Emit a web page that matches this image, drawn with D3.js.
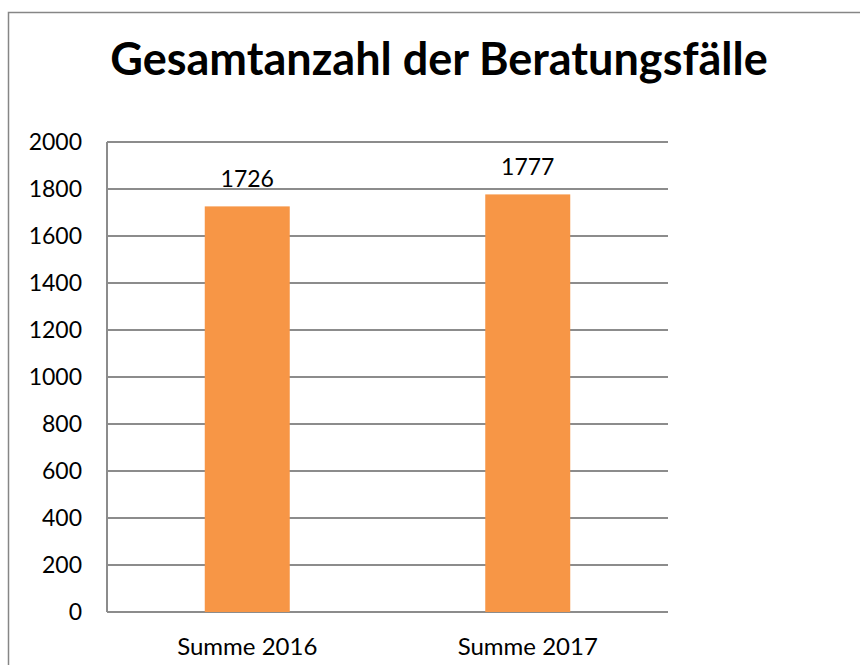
<!DOCTYPE html>
<html><head><meta charset="utf-8">
<script src="https://cdn.jsdelivr.net/npm/d3@7"></script>
<style>body{margin:0;background:#fff}svg{display:block}</style>
</head><body>
<svg id="c" width="860" height="665"></svg>
<script>
const title = "Gesamtanzahl der Beratungsfälle";
const categories = ["Summe 2016", "Summe 2017"];
const values = [1726, 1777];
const yTicks = [0, 200, 400, 600, 800, 1000, 1200, 1400, 1600, 1800, 2000];

const svg = d3.select("#c");
const font = "Lato, Carlito, 'Open Sans', sans-serif";
const m = {left: 107, right: 668, top: 142, bottom: 612};

svg.append("rect").attr("x", 8.5).attr("y", 12.5).attr("width", 900).attr("height", 700)
  .attr("fill", "#fff").attr("stroke", "#868686").attr("stroke-width", 1.5);

const x = d3.scaleBand().domain(categories).range([m.left, m.right]).padding(0);
const y = d3.scaleLinear().domain([0, 2000]).range([m.bottom, m.top]);

// gridlines
svg.append("g").selectAll("line").data(yTicks).join("line")
  .attr("x1", m.left).attr("x2", m.right)
  .attr("y1", d => y(d)).attr("y2", d => y(d))
  .attr("stroke", "#8c8c8c").attr("stroke-width", 2);

// y axis line
svg.append("line").attr("x1", m.left).attr("x2", m.left).attr("y1", m.top).attr("y2", m.bottom)
  .attr("stroke", "#8c8c8c").attr("stroke-width", 2);

const yAxis = d3.axisLeft(y).tickValues(yTicks).tickSize(0).tickPadding(25).tickFormat(d3.format("d"));
const ga = svg.append("g").attr("transform", `translate(${m.left},0)`).call(yAxis);
ga.select(".domain").remove();
ga.selectAll("text").attr("font-family", font).attr("font-size", 23).attr("fill", "#000");

const bw = x.bandwidth() * 0.303;
svg.append("g").selectAll("rect").data(values).join("rect")
  .attr("x", (d, i) => x(categories[i]) + x.bandwidth() / 2 - bw / 2)
  .attr("width", bw)
  .attr("y", d => y(d))
  .attr("height", d => y(0) - y(d))
  .attr("fill", "#F79646");

svg.append("g").selectAll("text").data(values).join("text")
  .attr("x", (d, i) => x(categories[i]) + x.bandwidth() / 2)
  .attr("y", d => y(d) - 19)
  .attr("text-anchor", "middle")
  .attr("font-family", font).attr("font-size", 23).attr("fill", "#000")
  .text(d => d);

const xAxis = d3.axisBottom(x).tickSize(0).tickPadding(0);
const gx = svg.append("g").attr("transform", `translate(0,${m.bottom})`).call(xAxis);
gx.select(".domain").remove();
gx.selectAll("text").attr("font-family", font).attr("font-size", 24).attr("fill", "#000")
  .attr("dy", null).attr("y", 43);

svg.append("text").attr("x", 439).attr("y", 75).attr("text-anchor", "middle")
  .attr("font-family", font).attr("font-weight", "bold").attr("font-size", 45).attr("fill", "#000")
  .text(title);
</script>
</body></html>
